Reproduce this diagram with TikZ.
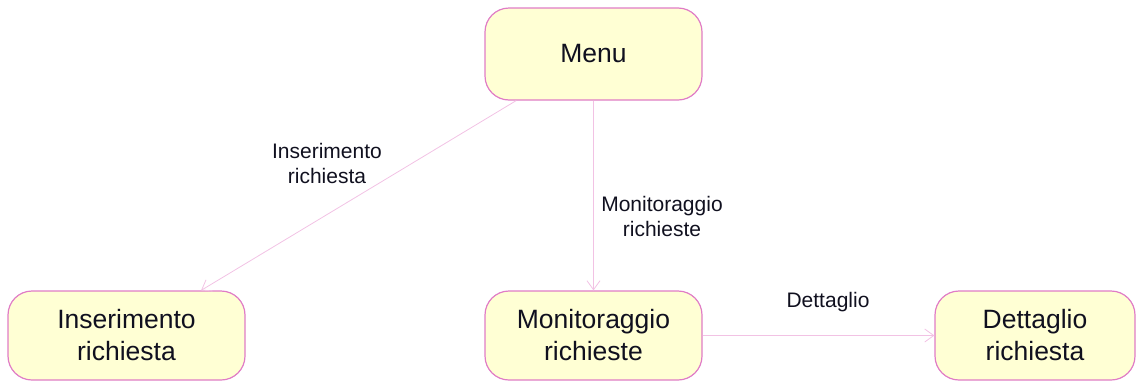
\documentclass[tikz,border=0pt]{standalone}
\usepackage{fontspec}
\setmainfont{Liberation Sans}
\usetikzlibrary{arrows.meta}
\definecolor{boxfill}{HTML}{FFFFD4}
\definecolor{boxdraw}{HTML}{E07CC6}
\definecolor{linkc}{HTML}{F2C2E4}
\definecolor{txt}{HTML}{10101F}
\tikzset{
  state/.style={rectangle, rounded corners=24pt, draw=boxdraw, line width=1.2pt, fill=boxfill,
    align=center, text=txt, font=\fontsize{26.5}{32}\selectfont, inner sep=0pt},
  lbl/.style={align=center, text=txt, font=\fontsize{21}{25}\selectfont, inner sep=0pt},
  link/.style={draw=linkc, line width=0.8pt, -{Straight Barb[length=9pt,width=13pt,line width=0.8pt]}}
}
\begin{document}
\begin{tikzpicture}[x=1pt,y=-1pt]
\useasboundingbox (0,0) rectangle (1137,381);
\node[state, minimum width=217pt, minimum height=92pt] (menu) at (593.5,54) {Menu};
\node[state, minimum width=237pt, minimum height=89pt] (ins) at (126.5,335.5) {Inserimento\\richiesta};
\node[state, minimum width=217pt, minimum height=89pt] (mon) at (593.5,335.5) {Monitoraggio\\richieste};
\node[state, minimum width=200pt, minimum height=89pt] (det) at (1035,335.5) {Dettaglio\\richiesta};
\draw[link] (menu) -- (ins);
\draw[link] (menu) -- (mon);
\draw[link] (mon) -- (det);
\node[lbl] (l1) at (327,163) {Inserimento\\richiesta};
\node[lbl] (l2) at (662,216) {Monitoraggio\\richieste};
\node[lbl] (l3) at (828,302) {Dettaglio};
\end{tikzpicture}
\end{document}
